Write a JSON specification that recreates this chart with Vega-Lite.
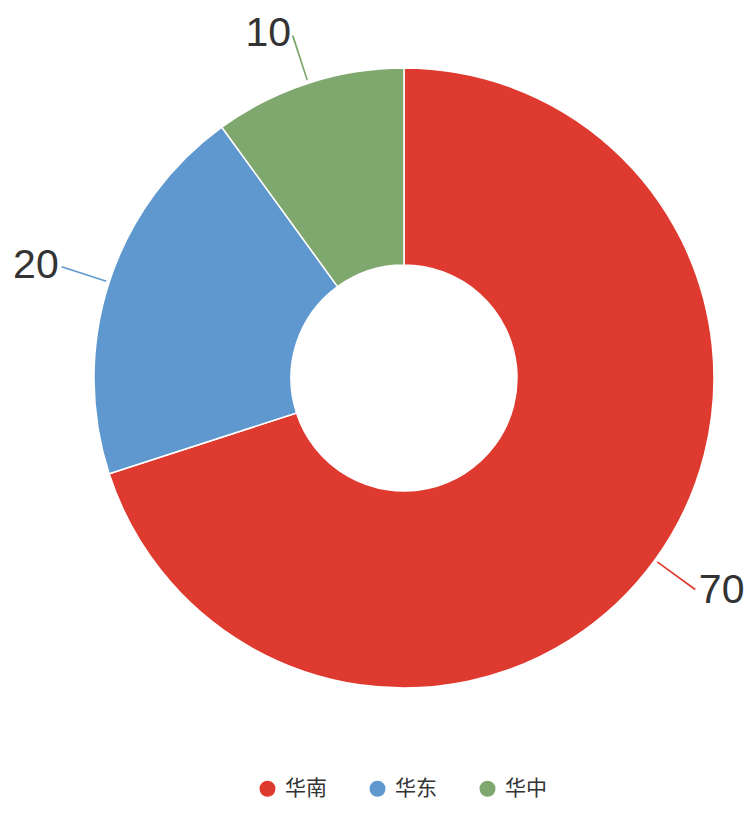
{
  "$schema": "https://vega.github.io/schema/vega-lite/v6.json",
  "autosize": {"type": "none"},
  "width": 698,
  "height": 756,
  "padding": {"left": 55, "top": 0, "right": 0, "bottom": 68},
  "background": "white",
  "config": {"view": {"stroke": null}, "font": "Noto Sans CJK SC"},
  "data": {
    "values": [
      {"region": "华南", "value": 70},
      {"region": "华东", "value": 20},
      {"region": "华中", "value": 10}
    ]
  },
  "transform": [
    {"window": [{"op": "sum", "field": "value", "as": "cum"}], "sort": [{"field": "value", "order": "descending"}]},
    {"calculate": "datum.cum - datum.value / 2", "as": "mid"},
    {"calculate": "datum.mid - 0.04", "as": "lo"},
    {"calculate": "datum.mid + 0.04", "as": "hi"}
  ],
  "encoding": {
    "color": {
      "field": "region",
      "type": "nominal",
      "scale": {"domain": ["华南", "华东", "华中"], "range": ["#df3a2f", "#5f98cf", "#7fa86f"]},
      "legend": {
        "orient": "none",
        "direction": "horizontal",
        "legendX": 202,
        "legendY": 778,
        "title": null,
        "symbolType": "circle",
        "symbolSize": 256,
        "symbolStrokeWidth": 0,
        "symbolOpacity": 1,
        "labelFontSize": 21,
        "labelColor": "#333333",
        "labelOffset": 7,
        "columnPadding": 40
      }
    }
  },
  "layer": [
    {
      "mark": {"type": "arc", "outerRadius": 310, "innerRadius": 113, "stroke": "white", "strokeWidth": 1.5},
      "encoding": {
        "theta": {"field": "value", "type": "quantitative", "stack": true, "scale": {"domain": [0, 100]}},
        "order": {"field": "value", "sort": "descending"}
      }
    },
    {
      "mark": {"type": "arc", "outerRadius": 360, "innerRadius": 313},
      "encoding": {
        "theta": {"field": "lo", "type": "quantitative"},
        "theta2": {"field": "hi"}
      }
    },
    {
      "transform": [{"filter": "datum.mid < 50"}],
      "mark": {"type": "text", "radius": 362, "align": "left", "baseline": "middle", "dx": 2, "fontSize": 41, "font": "Liberation Sans"},
      "encoding": {
        "theta": {"field": "mid", "type": "quantitative"},
        "text": {"field": "value", "type": "quantitative"},
        "color": {"value": "#333333"}
      }
    },
    {
      "transform": [{"filter": "datum.mid >= 50"}],
      "mark": {"type": "text", "radius": 362, "align": "right", "baseline": "middle", "dx": -1, "fontSize": 41, "font": "Liberation Sans"},
      "encoding": {
        "theta": {"field": "mid", "type": "quantitative"},
        "text": {"field": "value", "type": "quantitative"},
        "color": {"value": "#333333"}
      }
    }
  ]
}
